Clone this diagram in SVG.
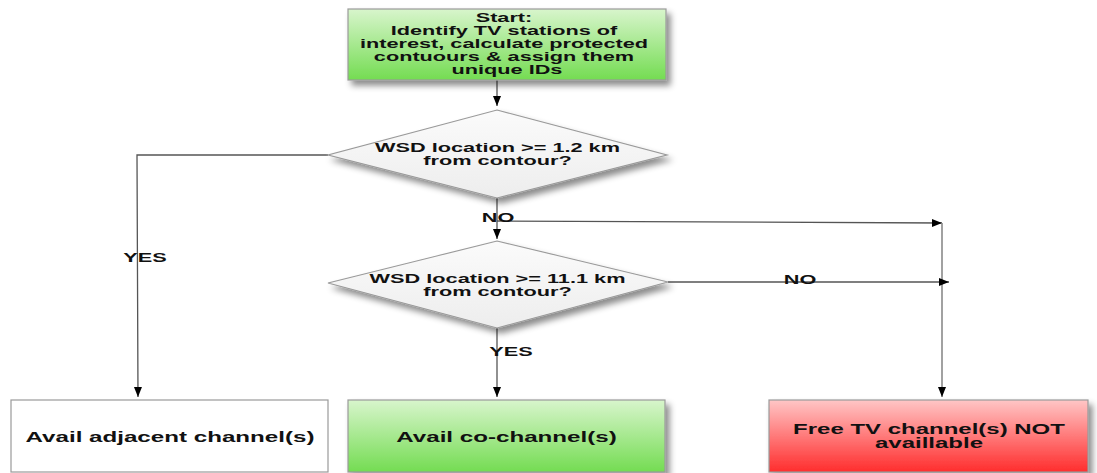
<svg xmlns="http://www.w3.org/2000/svg" width="1097" height="473" viewBox="0 0 1097 473">
<style>
.t{font-family:"Liberation Sans",Arial,sans-serif;font-weight:bold;font-size:13.5px;fill:#111;text-anchor:middle}
.ts{font-size:13px}
.tb{font-size:15px}
.tr{font-size:14.5px}
.box{stroke:#9a9a9a;stroke-width:1.2}
.ln{fill:none;stroke:#555;stroke-width:1.3}
.lv{fill:none;stroke:#8a8a8a;stroke-width:1.6}
</style>
<defs>
<linearGradient id="gG" x1="0" y1="0" x2="0" y2="1"><stop offset="0" stop-color="#d8f5cc"/><stop offset="1" stop-color="#74dc52"/></linearGradient>
<linearGradient id="gR" x1="0" y1="0" x2="0" y2="1"><stop offset="0" stop-color="#ffc6c6"/><stop offset="1" stop-color="#ff2d2d"/></linearGradient>
<linearGradient id="gD" x1="0" y1="0" x2="0" y2="1"><stop offset="0" stop-color="#fbfbfb"/><stop offset="1" stop-color="#ededed"/></linearGradient>
<filter id="sh" x="-10%" y="-20%" width="130%" height="160%"><feDropShadow dx="4" dy="5" stdDeviation="3" flood-color="#000" flood-opacity="0.45"/></filter>
<marker id="ar" viewBox="0 0 10 10" refX="10" refY="5" markerWidth="10" markerHeight="10" markerUnits="userSpaceOnUse" orient="auto"><path d="M0,1 L10,5 L0,9 z" fill="#000"/></marker>
</defs>
<g id="connectors">
<path class="ln" d="M497,80 L497,106" marker-end="url(#ar)"/>
<path class="ln" d="M328,155 L137,155 L138,397" marker-end="url(#ar)"/>
<path class="ln" d="M497,198 L497,239" marker-end="url(#ar)"/>
<path class="ln" d="M497,221 L942,223" marker-end="url(#ar)"/>
<path class="lv" d="M942,223 L942,397" marker-end="url(#ar)"/>
<path class="ln" d="M668,282 L949,282" marker-end="url(#ar)"/>
<path class="ln" d="M497,328 L497,397" marker-end="url(#ar)"/>
<text class="t" transform="translate(498 0) scale(1.61 1)" x="0" y="222">NO</text>
<text class="t" transform="translate(800 0) scale(1.61 1)" x="0" y="284">NO</text>
<text class="t" transform="translate(145 0) scale(1.61 1)" x="0" y="262">YES</text>
<text class="t" transform="translate(511 0) scale(1.61 1)" x="0" y="356">YES</text>
</g>
<g id="start">
<rect class="box" x="348" y="9" width="318" height="71" fill="url(#gG)" filter="url(#sh)"/>
<text class="t ts" transform="translate(507 0) scale(1.67 1)" y="22.5">
<tspan x="0">Start:</tspan>
<tspan x="0" dy="12.9">Identify TV stations of</tspan>
<tspan x="0" dy="12.9">interest, calculate protected</tspan>
<tspan x="0" dy="12.9">contuours &amp; assign them</tspan>
<tspan x="0" dy="12.9">unique IDs</tspan>
</text>
</g>
<g id="decision1">
<polygon class="box" points="497,110 667,155 497,198 328,155" fill="url(#gD)" filter="url(#sh)"/>
<text class="t" transform="translate(497.5 0) scale(1.61 1)" y="152"><tspan x="0">WSD location &gt;= 1.2 km</tspan><tspan x="0" dy="13">from contour?</tspan></text>
</g>
<g id="decision2">
<polygon class="box" points="497,241 668,282 497,328 328,283" fill="url(#gD)" filter="url(#sh)"/>
<text class="t" transform="translate(497.5 0) scale(1.61 1)" y="283"><tspan x="0">WSD location &gt;= 11.1 km</tspan><tspan x="0" dy="13">from contour?</tspan></text>
</g>
<g id="adjacent">
<rect class="box" x="11" y="400" width="317" height="72" fill="#fff"/>
<text class="t tb" transform="translate(170 0) scale(1.61 1)" x="0" y="442">Avail adjacent channel(s)</text>
</g>
<g id="cochannel">
<rect class="box" x="348" y="400" width="317" height="72" fill="url(#gG)" filter="url(#sh)"/>
<text class="t tb" transform="translate(506.5 0) scale(1.61 1)" x="0" y="442">Avail co-channel(s)</text>
</g>
<g id="notavailable">
<rect class="box" x="769" y="400" width="319" height="72" fill="url(#gR)" filter="url(#sh)"/>
<text class="t tr" transform="translate(929 0) scale(1.655 1)" y="434"><tspan x="0">Free TV channel(s) NOT</tspan><tspan x="0" dy="14.2">availlable</tspan></text>
</g>
</svg>
